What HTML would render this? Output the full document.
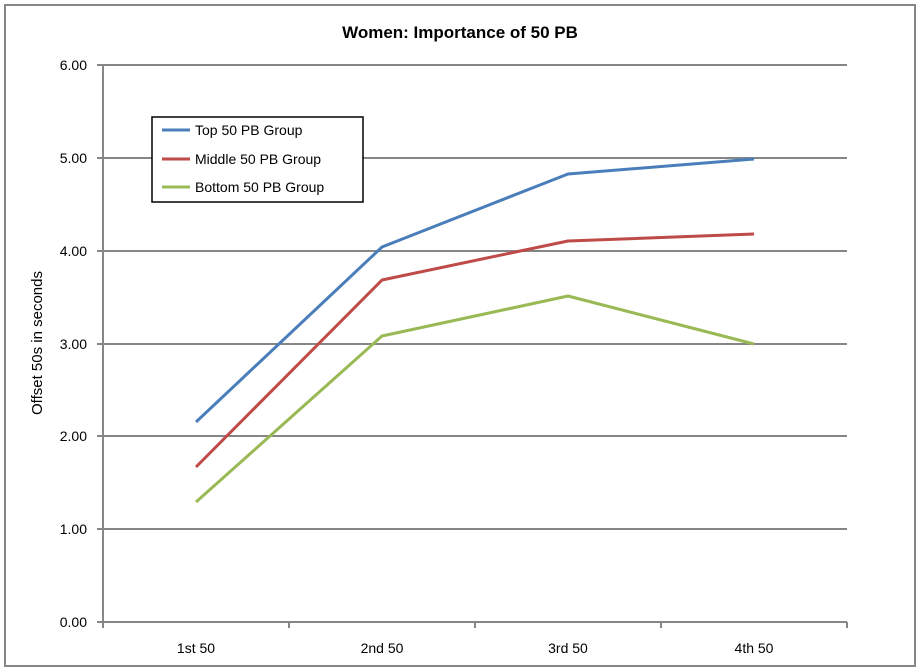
<!DOCTYPE html>
<html><head><style>body{margin:0;background:#fff}svg{display:block}text{font-family:"Liberation Sans",sans-serif;}</style></head><body>
<svg width="920" height="671" xmlns="http://www.w3.org/2000/svg">
<rect x="5" y="5" width="910" height="661" fill="#fff" stroke="#868686" stroke-width="2"/>
<text x="460" y="38" text-anchor="middle" font-size="17" font-weight="bold">Women: Importance of 50 PB</text>
<g stroke="#868686" stroke-width="2">
<line x1="97" y1="65" x2="847" y2="65"/>
<line x1="97" y1="158" x2="847" y2="158"/>
<line x1="97" y1="251" x2="847" y2="251"/>
<line x1="97" y1="344" x2="847" y2="344"/>
<line x1="97" y1="436" x2="847" y2="436"/>
<line x1="97" y1="529" x2="847" y2="529"/>
<line x1="97" y1="622" x2="847" y2="622"/>
<line x1="103" y1="65" x2="103" y2="628"/>
<line x1="289" y1="622" x2="289" y2="628"/>
<line x1="475" y1="622" x2="475" y2="628"/>
<line x1="661" y1="622" x2="661" y2="628"/>
<line x1="847" y1="622" x2="847" y2="628"/>
</g>
<g font-size="14" text-anchor="end">
<text x="87" y="70">6.00</text><text x="87" y="163">5.00</text><text x="87" y="256">4.00</text><text x="87" y="349">3.00</text><text x="87" y="441">2.00</text><text x="87" y="534">1.00</text><text x="87" y="627">0.00</text>
</g>
<g font-size="14" text-anchor="middle">
<text x="196" y="653">1st 50</text><text x="382" y="653">2nd 50</text><text x="568" y="653">3rd 50</text><text x="754" y="653">4th 50</text>
</g>
<text transform="translate(42,343) rotate(-90)" text-anchor="middle" font-size="15">Offset 50s in seconds</text>
<g fill="none" stroke-width="3" stroke-linejoin="round">
<polyline stroke="#4a7ebb" points="196,422 382,247 568,174 754,159"/>
<polyline stroke="#be4b48" points="196,467 382,280 568,241 754,234"/>
<polyline stroke="#98b954" points="196,502 382,336 568,296 754,344"/>
</g>
<rect x="152" y="117" width="211" height="85" fill="#fff" stroke="#000" stroke-width="1.5"/>
<line x1="162" y1="130" x2="190" y2="130" stroke="#4a7ebb" stroke-width="3"/>
<line x1="162" y1="159" x2="190" y2="159" stroke="#be4b48" stroke-width="3"/>
<line x1="162" y1="187" x2="190" y2="187" stroke="#98b954" stroke-width="3"/>
<g font-size="14"><text x="195" y="135">Top 50 PB Group</text><text x="195" y="164">Middle 50 PB Group</text><text x="195" y="192">Bottom 50 PB Group</text></g>
</svg>
</body></html>
